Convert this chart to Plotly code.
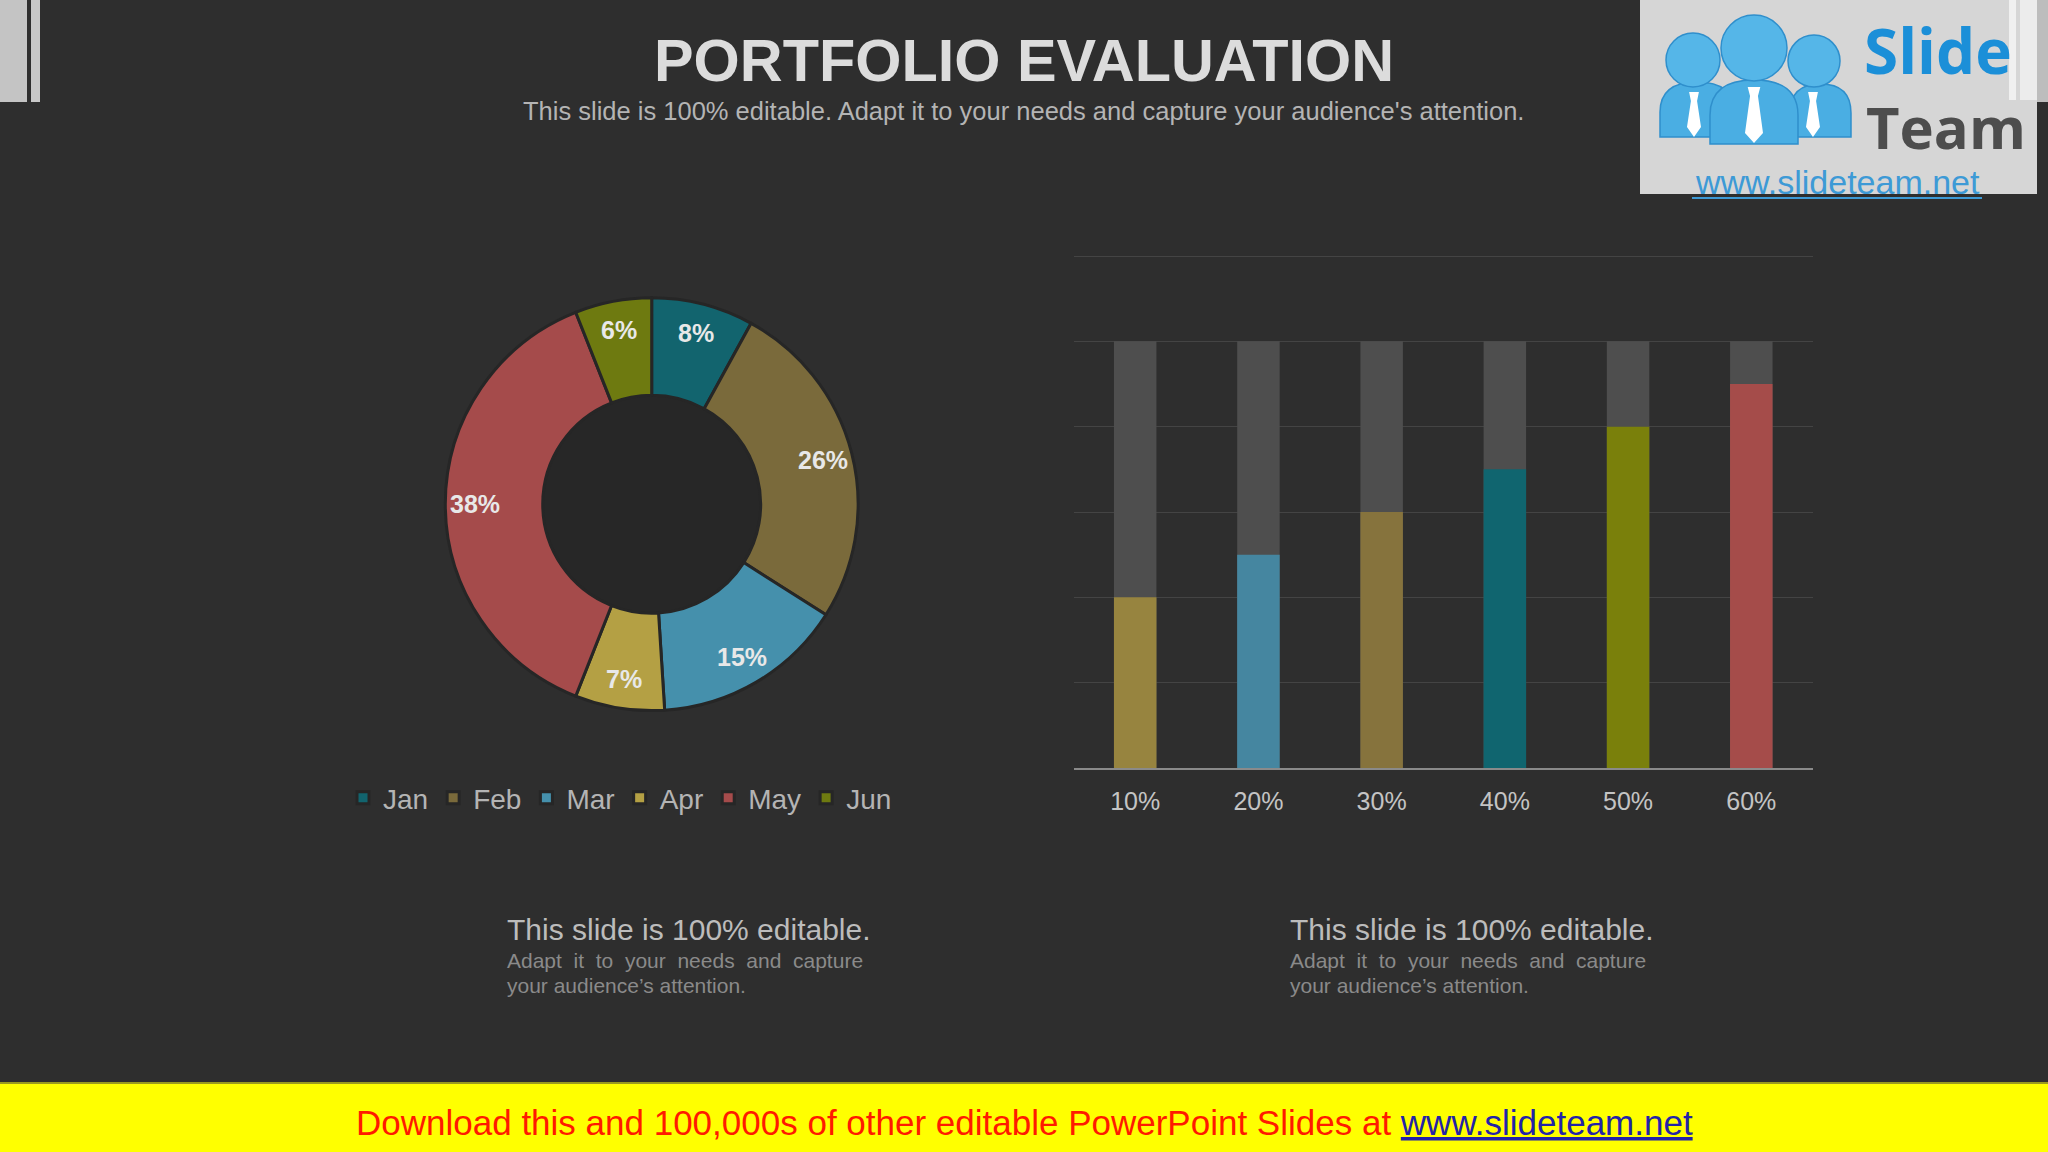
import math
import plotly.graph_objects as go

W, H = 2048, 1152

# ---------------- data ----------------
months = ["Jan", "Feb", "Mar", "Apr", "May", "Jun"]
month_share = [8, 26, 15, 7, 38, 6]
month_colors = ["#12646e", "#7a6a3b", "#4590ac", "#b4a044", "#a54b4b", "#6e7a10"]

bar_labels = ["10%", "20%", "30%", "40%", "50%", "60%"]
bar_values = [2.0, 2.5, 3.0, 3.5, 4.0, 4.5]
bar_track = [5, 5, 5, 5, 5, 5]
bar_colors = ["#97843f", "#4586a0", "#86733d", "#10656f", "#7a800b", "#a54c4a"]

title_text = "PORTFOLIO EVALUATION"
subtitle_text = "This slide is 100% editable. Adapt it to your needs and capture your audience's attention."
block_head = "This slide is 100% editable."
block_line1 = "Adapt it to your needs and capture"
block_line2 = "your audience\u2019s attention."
banner_text = "Download this and 100,000s of other editable PowerPoint Slides at "
banner_url = "www.slideteam.net"

BG = "#2e2e2e"
FONT = "Liberation Sans, Arial, sans-serif"


def px(x):
    return x / W


def py(y):
    return 1 - y / H


fig = go.Figure()

# ---------------- donut ----------------
cx, cy, R = 651.7, 504.2, 206.4
hole = 0.528
fig.add_trace(go.Pie(
    labels=months, values=month_share, sort=False, direction="clockwise",
    rotation=0, hole=hole,
    marker=dict(colors=month_colors, line=dict(color="#262626", width=3)),
    textinfo="none",
    domain=dict(x=[px(cx - R), px(cx + R)], y=[py(cy + R), py(cy - R)]),
    showlegend=True, hoverinfo="label+percent",
))

# ---------------- bars ----------------
ytop = 6.02
fig.add_trace(go.Bar(
    x=bar_labels, y=bar_track, width=0.345, marker=dict(color="#4e4e4e", line=dict(width=0)),
    showlegend=False, hoverinfo="skip", xaxis="x", yaxis="y",
))
fig.add_trace(go.Bar(
    x=bar_labels, y=bar_values, width=0.345, marker=dict(color=bar_colors, line=dict(width=0)),
    showlegend=False, xaxis="x", yaxis="y",
))

shapes = []
# donut hole darker fill
rin = R * hole
shapes.append(dict(type="circle", xref="paper", yref="paper", layer="below",
                   x0=px(cx - rin), x1=px(cx + rin), y0=py(cy + rin), y1=py(cy - rin),
                   fillcolor="#272727", line=dict(width=0)))

# top-left decoration
shapes.append(dict(type="rect", xref="paper", yref="paper", x0=px(0), x1=px(27), y0=py(102), y1=py(0),
                   fillcolor="#c4c4c4", line=dict(width=0)))
shapes.append(dict(type="rect", xref="paper", yref="paper", x0=px(31), x1=px(40), y0=py(102), y1=py(0),
                   fillcolor="#c8c8c8", line=dict(width=0)))

# logo box
shapes.append(dict(type="rect", xref="paper", yref="paper", x0=px(1640), x1=px(2037), y0=py(194), y1=py(0),
                   fillcolor="#d6d6d6", line=dict(width=0)))
# top-right decoration
shapes.append(dict(type="rect", xref="paper", yref="paper", x0=px(2009), x1=px(2016), y0=py(100), y1=py(0),
                   fillcolor="#f0f0f0", line=dict(width=0)))
shapes.append(dict(type="rect", xref="paper", yref="paper", x0=px(2020), x1=px(2037), y0=py(100), y1=py(0),
                   fillcolor="#ececec", line=dict(width=0)))
shapes.append(dict(type="rect", xref="paper", yref="paper", x0=px(2037), x1=px(2048), y0=py(102), y1=py(0),
                   fillcolor="#bdbdbd", line=dict(width=0)))


def pth(points):
    s = ""
    for cmd, pts in points:
        s += cmd + " ".join(f"{px(a):.5f},{py(b):.5f}" for a, b in pts) + " "
    return s + "Z"


def body(x0, x1, yt, yb):
    xm = (x0 + x1) / 2
    h = yb - yt
    return pth([("M", [(x0, yb)]), ("L", [(x0, yt + h * 0.55)]),
                ("Q", [(x0, yt), (xm, yt)]), ("Q", [(x1, yt), (x1, yt + h * 0.55)]),
                ("L", [(x1, yb)])])


def tie(xc, yt, yb, w):
    return pth([("M", [(xc - w * 0.35, yt)]), ("L", [(xc + w * 0.35, yt)]),
                ("L", [(xc + w * 0.22, yt + 9)]), ("L", [(xc + w * 0.5, yb - 10)]),
                ("L", [(xc, yb)]), ("L", [(xc - w * 0.5, yb - 10)]),
                ("L", [(xc - w * 0.22, yt + 9)])])


blue = "#4aaee3"
blue_line = "#2f8fcc"
for (x0, x1, yt, yb) in [(1660, 1734, 82, 137), (1790, 1851, 84, 137)]:
    shapes.append(dict(type="path", xref="paper", yref="paper", path=body(x0, x1, yt, yb),
                       fillcolor=blue, line=dict(color=blue_line, width=1.5)))
for (cxh, cyh, r) in [(1693, 60, 27), (1814, 61, 26)]:
    shapes.append(dict(type="circle", xref="paper", yref="paper", x0=px(cxh - r), x1=px(cxh + r),
                       y0=py(cyh + r), y1=py(cyh - r), fillcolor="#55b6e8", line=dict(color=blue_line, width=1.5)))
shapes.append(dict(type="path", xref="paper", yref="paper", path=body(1710, 1798, 80, 144),
                   fillcolor=blue, line=dict(color=blue_line, width=1.5)))
shapes.append(dict(type="circle", xref="paper", yref="paper", x0=px(1754 - 33), x1=px(1754 + 33),
                   y0=py(48 + 33), y1=py(48 - 33), fillcolor="#55b6e8", line=dict(color=blue_line, width=1.5)))
for (xc, yt, yb, w) in [(1694, 92, 137, 14), (1754, 87, 143, 18), (1813, 92, 137, 14)]:
    shapes.append(dict(type="path", xref="paper", yref="paper", path=tie(xc, yt, yb, w),
                       fillcolor="#ffffff", line=dict(width=0)))
# logo url underline
shapes.append(dict(type="line", xref="paper", yref="paper", x0=px(1692), x1=px(1982), y0=py(198), y1=py(198),
                   line=dict(color="#3d9ad6", width=2)))

# banner
shapes.append(dict(type="rect", xref="paper", yref="paper", x0=0, x1=1, y0=py(1152), y1=py(1083),
                   fillcolor="#ffff00", line=dict(width=0)))
shapes.append(dict(type="line", xref="paper", yref="paper", x0=0, x1=1, y0=py(1083), y1=py(1083),
                   line=dict(color="#9a9a20", width=2)))

annotations = []


def ann(text, x, y, size, color, xanchor="center", bold=False, family=FONT):
    annotations.append(dict(text=text, x=px(x), y=py(y), xref="paper", yref="paper",
                            xanchor=xanchor, yanchor="middle", showarrow=False,
                            font=dict(family=family, size=size, color=color,
                                      weight="bold" if bold else "normal")))


# donut value labels, placed along each slice's mid-angle in the outer part of the ring
label_r = 177
total = sum(month_share)
cum = 0
for v in month_share:
    theta = 2 * math.pi * (cum + v / 2) / total
    ann(f"{v}%", cx + label_r * math.sin(theta), cy - label_r * math.cos(theta), 25, "#e8e8e8", bold=True)
    cum += v

ann(title_text, 1024, 61, 59.4, "#dcdcdc", bold=True)
ann(subtitle_text, 1023, 111, 25.5, "#b4b4b4")

nb = " \u00a0"
for x0 in (505, 1288):
    ann(block_head, x0, 929, 30, "#bcbcbc", xanchor="left")
    ann(block_line1.replace(" ", nb), x0, 960, 21, "#8a8a8a", xanchor="left")
    ann(block_line2, x0, 985, 21, "#8a8a8a", xanchor="left")

ann(banner_text + f"<span style='color:#2323a8;text-decoration:underline'>{banner_url}</span>",
    1024, 1122, 35, "#ff1a00", family=FONT)

# logo texts
ann("Slide", 1862, 50, 62, "#1b8fd8", xanchor="left", bold=True, family="Open Sans, DejaVu Sans, sans-serif")
ann("Team", 1864, 126, 58, "#4d4d4d", xanchor="left", bold=True, family="Open Sans, DejaVu Sans, sans-serif")
ann(banner_url, 1837, 182, 34, "#3d9ad6", family=FONT)

fig.update_layout(
    width=W, height=H, autosize=False,
    margin=dict(l=0, r=0, t=0, b=0),
    paper_bgcolor=BG, plot_bgcolor="rgba(0,0,0,0)",
    barmode="overlay", bargap=0.65,
    font=dict(family=FONT, color="#c4c4c4"),
    shapes=shapes, annotations=annotations,
    xaxis=dict(domain=[px(1073.6), px(1812.9)], showgrid=False, showline=True,
               linecolor="#8a8a8a", linewidth=2, ticks="", zeroline=False,
               tickfont=dict(family=FONT, size=25, color="#c4c4c4"),
               ticklabelstandoff=10, fixedrange=True),
    yaxis=dict(domain=[py(768), py(768 - 512 * ytop / 6)], range=[0, ytop], dtick=1, showticklabels=False,
               showgrid=True, gridcolor="#444444", gridwidth=1, zeroline=False,
               showline=False, ticks="", fixedrange=True),
    legend=dict(orientation="h", x=px(620), y=py(798), xanchor="center", yanchor="middle",
                font=dict(family=FONT, size=28, color="#b4b4b4"), bgcolor="rgba(0,0,0,0)",
                itemclick=False, itemdoubleclick=False, traceorder="normal"),
)

fig.write_html("out.html", config={"displayModeBar": False},
               post_script="document.body.style.margin='0px';document.body.style.overflow='hidden';")
